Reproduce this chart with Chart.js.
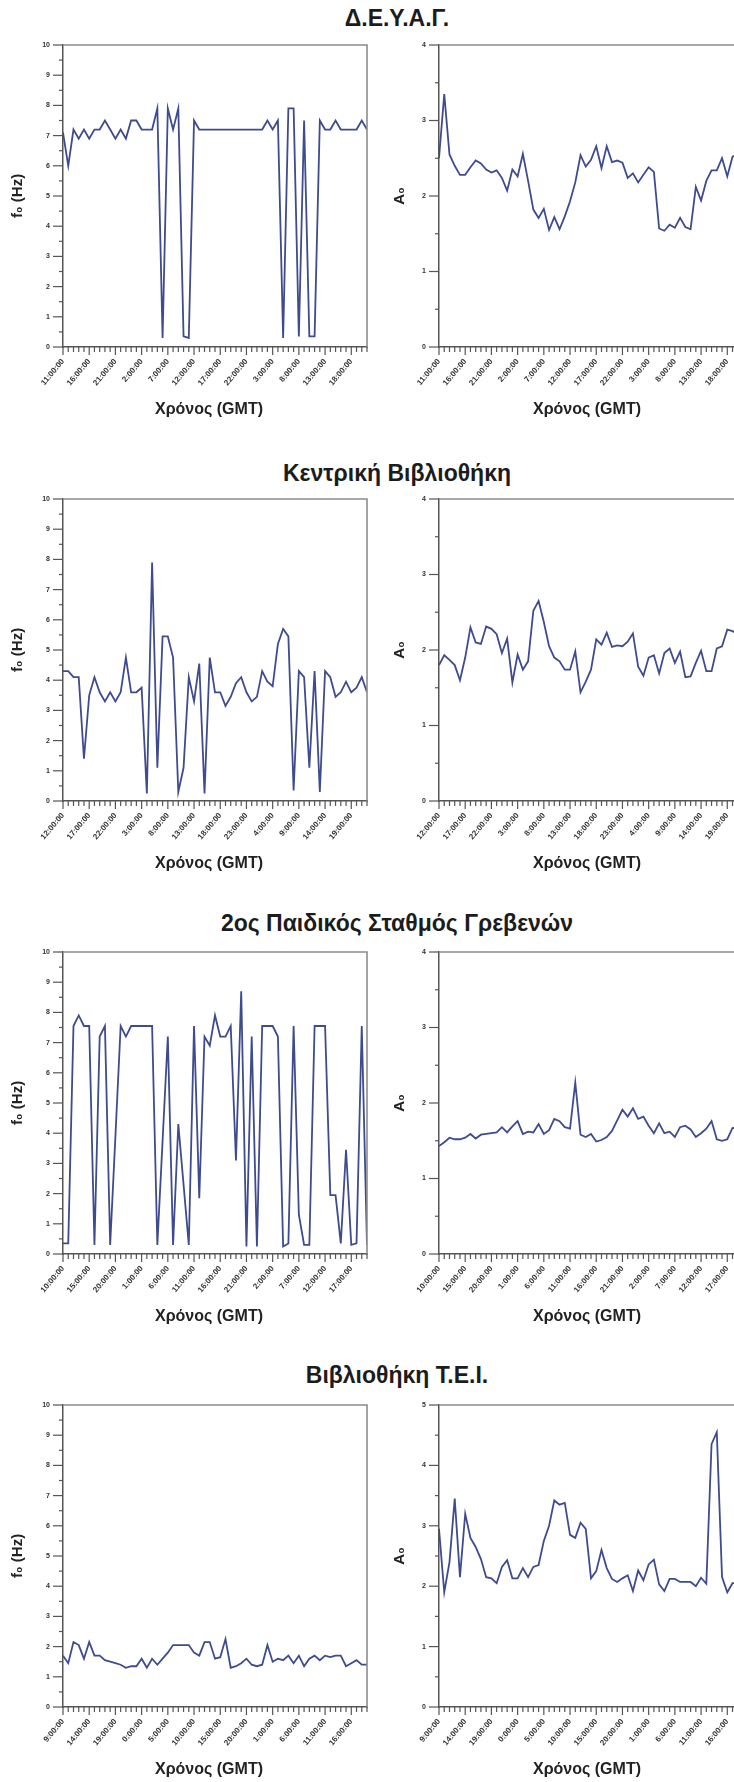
<!DOCTYPE html>
<html>
<head>
<meta charset="utf-8">
<script src="https://cdn.jsdelivr.net/npm/chart.js@4.4.1/dist/chart.umd.min.js"></script>
<style>
  html, body { margin: 0; padding: 0; background: #fff; overflow: hidden; }
  body { width: 734px; height: 1782px; position: relative; font-family: 'Liberation Sans', Arial, sans-serif; }
  .title { position: absolute; left: 0; width: 794px; text-align: center; font-weight: bold;
           font-size: 23px; line-height: 26px; color: #1c1c1c; }
  .box { position: absolute; width: 380px; height: 392px; }
</style>
</head>
<body>
<div id="page"></div>
<script>
// station titles, one per row
const rowTitles = ['Δ.Ε.Υ.Α.Γ.', 'Κεντρική Βιβλιοθήκη', '2ος Παιδικός Σταθμός Γρεβενών', 'Βιβλιοθήκη Τ.Ε.Ι.'];

// time tick labels (every 5 hours), one list per row
const ticksDeyag = ['11:00:00','16:00:00','21:00:00','2:00:00','7:00:00','12:00:00','17:00:00','22:00:00','3:00:00','8:00:00','13:00:00','18:00:00'];
const ticksKentriki = ['12:00:00','17:00:00','22:00:00','3:00:00','8:00:00','13:00:00','18:00:00','23:00:00','4:00:00','9:00:00','14:00:00','19:00:00'];
const ticksPaidikos = ['10:00:00','15:00:00','20:00:00','1:00:00','6:00:00','11:00:00','16:00:00','21:00:00','2:00:00','7:00:00','12:00:00','17:00:00'];
const ticksTei = ['9:00:00','14:00:00','19:00:00','0:00:00','5:00:00','10:00:00','15:00:00','20:00:00','1:00:00','6:00:00','11:00:00','16:00:00'];

// hourly values, f0 (Hz) and A0
const f0Deyag = [7.1,6.0,7.2,6.9,7.2,6.9,7.2,7.2,7.5,7.2, 6.9,7.2,6.9,7.5,7.5,7.2,7.2,7.2,7.9,0.3,
  7.9,7.2,7.9,0.35,0.3,7.5,7.2,7.2,7.2,7.2, 7.2,7.2,7.2,7.2,7.2,7.2,7.2,7.2,7.2,7.5,
  7.2,7.5,0.3,7.9,7.9,0.35,7.5,0.35,0.35,7.5, 7.2,7.2,7.5,7.2,7.2,7.2,7.2,7.5,7.2];
const a0Deyag = [2.5,3.35,2.55,2.4,2.28,2.28,2.38,2.47,2.43,2.35, 2.31,2.34,2.24,2.07,2.35,2.26,2.56,2.2,1.82,1.71,
  1.83,1.55,1.72,1.56,1.73,1.93,2.18,2.54,2.39,2.48, 2.66,2.37,2.66,2.45,2.47,2.44,2.24,2.3,2.18,2.28,
  2.38,2.32,1.57,1.54,1.62,1.58,1.71,1.59,1.56,2.12, 1.94,2.2,2.34,2.34,2.5,2.26,2.52,2.55,2.5];

const f0Kentriki = [4.3,4.3,4.1,4.1,1.4,3.5,4.1,3.6,3.3,3.6, 3.3,3.6,4.75,3.6,3.6,3.75,0.25,7.9,1.1,5.45,
  5.45,4.75,0.3,1.1,4.1,3.3,4.55,0.25,4.75,3.6, 3.6,3.15,3.45,3.9,4.1,3.6,3.3,3.45,4.3,3.95,
  3.8,5.2,5.7,5.45,0.35,4.3,4.1,1.1,4.3,0.3, 4.3,4.1,3.45,3.6,3.95,3.6,3.75,4.1,3.6];
const a0Kentriki = [1.8,1.93,1.87,1.8,1.6,1.9,2.3,2.1,2.08,2.31, 2.28,2.21,1.96,2.15,1.57,1.94,1.74,1.85,2.52,2.65,
  2.37,2.05,1.9,1.85,1.74,1.74,1.98,1.44,1.58,1.74, 2.14,2.07,2.23,2.04,2.06,2.05,2.11,2.22,1.78,1.66,
  1.9,1.93,1.69,1.96,2.02,1.83,1.98,1.64,1.65,1.83, 1.99,1.72,1.72,2.02,2.05,2.27,2.25,2.21,2.2];

const f0Paidikos = [0.35,0.35,7.55,7.9,7.55,7.55,0.3,7.2,7.55,0.3, 3.9,7.55,7.2,7.55,7.55,7.55,7.55,7.55,0.3,3.75,
  7.2,0.3,4.3,2.3,0.3,7.55,1.85,7.2,6.9,7.9, 7.2,7.2,7.55,3.1,8.7,0.25,7.2,0.25,7.55,7.55,
  7.55,7.2,0.25,0.35,7.55,1.3,0.3,0.3,7.55,7.55, 7.55,1.95,1.95,0.35,3.45,0.3,0.35,7.55,0.3];
const a0Paidikos = [1.43,1.48,1.54,1.52,1.52,1.54,1.59,1.53,1.58,1.59, 1.6,1.61,1.68,1.61,1.69,1.76,1.59,1.62,1.61,1.72,
  1.59,1.64,1.79,1.76,1.68,1.66,2.27,1.58,1.55,1.59, 1.49,1.51,1.55,1.63,1.77,1.91,1.82,1.93,1.79,1.82,
  1.7,1.6,1.73,1.6,1.62,1.55,1.68,1.7,1.65,1.55, 1.6,1.66,1.76,1.52,1.5,1.52,1.67,1.66,1.65];

const f0Tei = [1.7,1.45,2.15,2.05,1.6,2.15,1.7,1.7,1.55,1.5, 1.45,1.4,1.3,1.35,1.35,1.6,1.3,1.6,1.4,1.6,
  1.8,2.05,2.05,2.05,2.05,1.8,1.7,2.15,2.15,1.6, 1.65,2.25,1.3,1.35,1.45,1.6,1.4,1.35,1.4,2.05,
  1.5,1.6,1.55,1.7,1.45,1.7,1.35,1.6,1.7,1.55, 1.7,1.65,1.7,1.7,1.35,1.45,1.55,1.4,1.4];
const a0Tei = [2.95,1.9,2.4,3.45,2.15,3.2,2.8,2.65,2.45,2.15, 2.13,2.05,2.32,2.43,2.13,2.13,2.3,2.15,2.32,2.35,
  2.75,3.0,3.42,3.35,3.38,2.85,2.8,3.05,2.95,2.13, 2.25,2.6,2.3,2.12,2.07,2.13,2.18,1.92,2.26,2.1,
  2.36,2.44,2.03,1.92,2.12,2.12,2.07,2.07,2.07,2.0, 2.14,2.04,4.35,4.55,2.15,1.9,2.05,2.05,2.1];

const yMaxF0 = 10;
const yMaxA0 = [4, 4, 4, 5];

const rows = [
  { ticks: ticksDeyag, f0: f0Deyag, a0: a0Deyag },
  { ticks: ticksKentriki, f0: f0Kentriki, a0: a0Kentriki },
  { ticks: ticksPaidikos, f0: f0Paidikos, a0: a0Paidikos },
  { ticks: ticksTei, f0: f0Tei, a0: a0Tei },
];

const plotTops = [45, 499, 952, 1405];
const titleCenters = [18, 473, 923, 1375];
const LINE = '#3e4b8f';
const AXIS = '#555';
const FONT = "'Liberation Sans', Arial, sans-serif";

// frame, major/minor tick marks and the time axis title
const framePlugin = {
  id: 'frame',
  afterDraw(chart, args, opts) {
    const ctx = chart.ctx;
    const { left, right, top, bottom } = chart.chartArea;
    ctx.save();
    ctx.strokeStyle = '#8c8c8c';
    ctx.lineWidth = 1.6;
    ctx.beginPath();
    ctx.moveTo(left, top);
    ctx.lineTo(right, top);
    ctx.lineTo(right, bottom);
    ctx.stroke();

    ctx.strokeStyle = AXIS;
    ctx.lineWidth = 1.2;
    const xs = chart.scales.x, ys = chart.scales.y;
    xs.ticks.forEach(t => {
      const p = xs.getPixelForValue(t.value);
      const len = t.label !== '' ? 8 : 5;
      ctx.beginPath(); ctx.moveTo(p, bottom); ctx.lineTo(p, bottom + len); ctx.stroke();
    });
    ys.ticks.forEach(t => {
      const p = ys.getPixelForValue(t.value);
      const len = t.label !== '' ? 10 : 4;
      ctx.beginPath(); ctx.moveTo(left - len, p); ctx.lineTo(left, p); ctx.stroke();
    });

    ctx.fillStyle = '#222';
    ctx.font = 'bold 16px ' + FONT;
    ctx.textAlign = 'center';
    ctx.textBaseline = 'middle';
    ctx.fillText('Χρόνος (GMT)', (left + right) / 2 + opts.shift, bottom + 63);
    ctx.restore();
  }
};

function isWhole(v) { return Math.abs(v - Math.round(v)) < 1e-6; }

function makeChart(canvas, values, timeTicks, yMax, yTitle, yWidth, yTitlePad, padRight, titleShift) {
  const n = values.length;
  new Chart(canvas, {
    type: 'line',
    data: {
      datasets: [{
        data: values.map((v, i) => ({ x: i, y: v })),
        borderColor: LINE,
        borderWidth: 1.8,
        pointRadius: 0,
        tension: 0,
        fill: false,
      }]
    },
    options: {
      responsive: false,
      animation: false,
      devicePixelRatio: 1,
      layout: { padding: { top: 15, right: padRight, left: 0, bottom: 0 } },
      plugins: { legend: { display: false }, tooltip: { enabled: false }, frame: { shift: titleShift } },
      scales: {
        x: {
          type: 'linear',
          min: 0,
          max: n - 1,
          afterFit: s => { s.height = 75; },
          border: { color: AXIS, width: 1.5 },
          grid: { drawOnChartArea: false, drawTicks: true, tickLength: 8, tickColor: 'transparent' },
          ticks: {
            stepSize: 1,
            autoSkip: false,
            minRotation: 50,
            maxRotation: 50,
            padding: 2,
            color: '#333',
            font: { family: FONT, size: 8, weight: 'bold' },
            callback: v => (isWhole(v) && Math.round(v) % 5 === 0) ? timeTicks[Math.round(v) / 5] : ''
          }
        },
        y: {
          min: 0,
          max: yMax,
          afterFit: s => { s.width = yWidth; },
          border: { color: AXIS, width: 1.5 },
          grid: { drawOnChartArea: false, drawTicks: true, tickLength: 10, tickColor: 'transparent' },
          ticks: {
            stepSize: 0.5,
            autoSkip: false,
            padding: 3,
            color: '#333',
            font: { family: FONT, size: 7, weight: 'bold' },
            callback: v => isWhole(v) ? String(Math.round(v)) : ''
          },
          title: {
            display: true,
            text: yTitle,
            color: '#222',
            font: { family: FONT, size: 15, weight: 'bold' },
            padding: { top: yTitlePad, bottom: 0 }
          }
        }
      }
    },
    plugins: [framePlugin]
  });
}

const page = document.getElementById('page');
rows.forEach((row, r) => {
  const t = document.createElement('div');
  t.className = 'title';
  t.style.top = (titleCenters[r] - 13) + 'px';
  t.textContent = rowTitles[r];
  page.appendChild(t);

  [0, 1].forEach(side => {
    const box = document.createElement('div');
    box.className = 'box';
    box.style.left = (side * 380) + 'px';
    box.style.top = (plotTops[r] - 15) + 'px';
    const c = document.createElement('canvas');
    c.width = 380; c.height = 392;
    box.appendChild(c);
    page.appendChild(box);
    if (side === 0) {
      makeChart(c, row.f0, row.ticks, yMaxF0, 'f₀ (Hz)', 63, 9, 13, -6);
    } else {
      makeChart(c, row.a0, row.ticks, yMaxA0[r], 'A₀', 59, 11, 17, -4);
    }
  });
});
</script>
</body>
</html>
